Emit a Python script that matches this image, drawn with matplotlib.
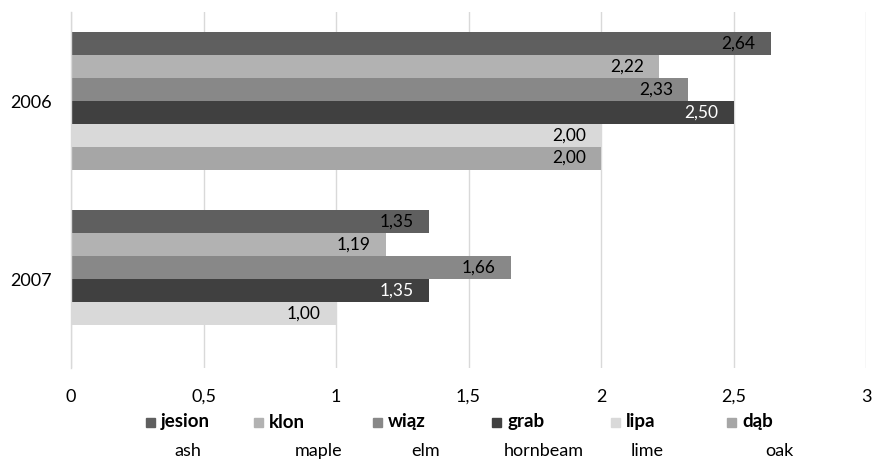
import numpy as np
import matplotlib
matplotlib.use("Agg")
import matplotlib.pyplot as plt
from matplotlib.patches import Rectangle

plt.rcParams['font.family'] = ['Lato', 'DejaVu Sans']

years = ["2006", "2007"]
species_pl = ["jesion", "klon", "wiąz", "grab", "lipa", "dąb"]
species_en = ["ash", "maple", "elm", "hornbeam", "lime", "oak"]
values_2006 = [2.64, 2.22, 2.33, 2.50, 2.00, 2.00]
values_2007 = [1.35, 1.19, 1.66, 1.35, 1.00, None]
colors = ["#5f5f5f", "#b2b2b2", "#888888", "#404040", "#d9d9d9", "#a6a6a6"]
label_colors = ["#000000", "#000000", "#000000", "#ffffff", "#000000", "#000000"]
x_ticks = [0, 0.5, 1, 1.5, 2, 2.5, 3]

fig = plt.figure(figsize=(8.75, 4.63), dpi=100)
W, H = 875, 463
ax = fig.add_axes([71 / W, 1 - 368 / H, (866 - 71) / W, (368 - 12) / H])

series_values = [list(v) for v in zip(values_2006, values_2007)]
n = len(species_pl)
bar_h = 0.77 / n
for i, (name, vals) in enumerate(zip(species_pl, series_values)):
    for c, v in enumerate(vals):
        if v is None:
            continue
        y = c + (i - (n - 1) / 2) * bar_h
        ax.barh(y, v, height=bar_h, color=colors[i], zorder=2)
        ax.annotate(f"{v:.2f}".replace(".", ","), xy=(v, y), xytext=(-11, 0),
                    textcoords="offset points", ha="right", va="center",
                    fontsize=12.5, color=label_colors[i], zorder=3)

ax.set_xlim(0, 3)
ax.set_ylim(1.5, -0.5)
ax.set_xticks(x_ticks)
ax.set_xticklabels([f"{t:g}".replace(".", ",") for t in x_ticks], fontsize=13)
ax.set_yticks(range(len(years)))
ax.set_yticklabels(years, fontsize=13)
ax.tick_params(axis="x", length=0, pad=15)
ax.tick_params(axis="y", length=0, pad=14)
ax.grid(axis="x", color="#d9d9d9", linewidth=1, zorder=0)
for s in ["top", "right", "bottom"]:
    ax.spines[s].set_visible(False)
ax.spines["left"].set_color("#d9d9d9")
ax.spines["left"].set_linewidth(1)

# legend: swatch + bold Polish name, English name underneath
sq_x = [146, 254, 373, 492, 611, 727]
en_x = [188, 319, 426, 544, 647, 779]
for i in range(n):
    fig.patches.append(Rectangle((sq_x[i] / W, 1 - 427 / H), 9 / W, 9 / H,
                                 transform=fig.transFigure, color=colors[i]))
    fig.text((sq_x[i] + 15) / W, 1 - 422 / H, species_pl[i], fontsize=13.5,
             fontweight="bold", va="center", ha="left")
    fig.text(en_x[i] / W, 1 - 451 / H, species_en[i], fontsize=13,
             va="center", ha="center")

fig.savefig("out.png", dpi=100)
